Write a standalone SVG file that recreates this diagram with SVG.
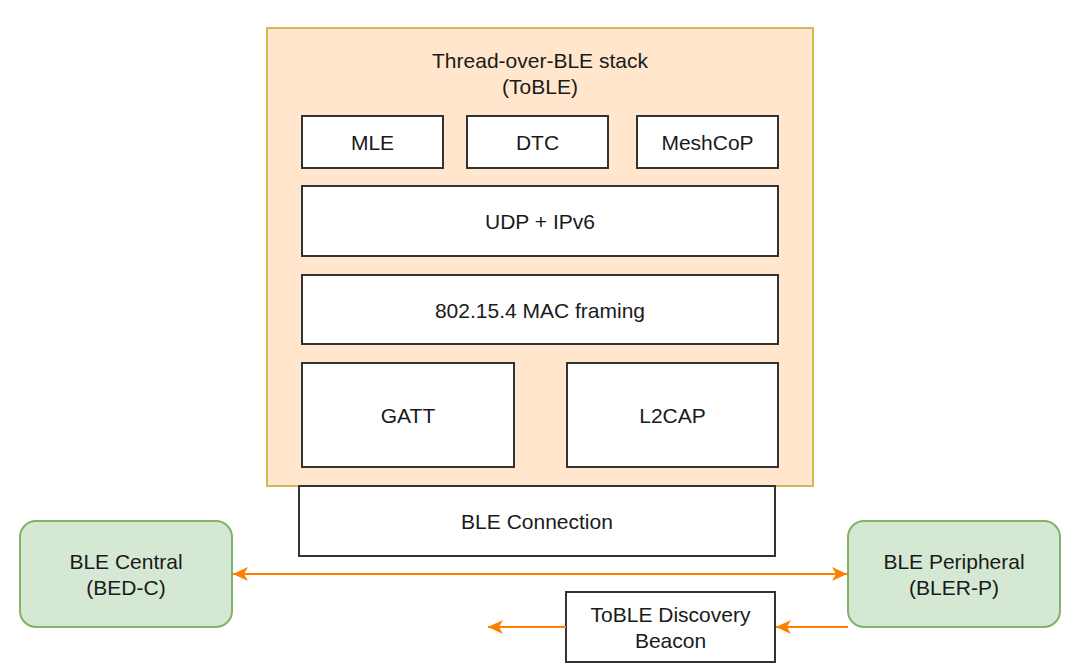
<svg xmlns="http://www.w3.org/2000/svg" width="1080" height="672" viewBox="0 0 1080 672">
<defs>
<style>
.box{fill:#ffffff;stroke:#333333;stroke-width:2}
.green{fill:#d5e8d4;stroke:#82b366;stroke-width:2}
.t{font-family:"Liberation Sans",Arial,sans-serif;font-size:21px;fill:#1a1a1a;text-anchor:middle;dominant-baseline:central}
.conn{stroke:#ff8000;stroke-width:2;fill:none}
</style>
<marker id="a2" markerWidth="16" markerHeight="16" viewBox="0 0 16 16" refX="15" refY="8" orient="auto-start-reverse" markerUnits="userSpaceOnUse">
<path d="M0,1 L15,8 L0,15 L4,8 Z" fill="#ff8000"/>
</marker>
</defs>
<rect width="1080" height="672" fill="#ffffff"/>
<g id="stack">
<rect x="267" y="28" width="546" height="458" fill="#ffe6cc" stroke="#d6b656" stroke-width="2"/>
<text class="t" x="540" y="60">Thread-over-BLE stack</text>
<text class="t" x="540" y="86">(ToBLE)</text>
</g>
<g id="mle"><rect class="box" x="302" y="116" width="141" height="52"/><text class="t" x="372.5" y="142">MLE</text></g>
<g id="dtc"><rect class="box" x="467" y="116" width="141" height="52"/><text class="t" x="537.5" y="142">DTC</text></g>
<g id="meshcop"><rect class="box" x="637" y="116" width="141" height="52"/><text class="t" x="707.5" y="142">MeshCoP</text></g>
<g id="udp"><rect class="box" x="302" y="186" width="476" height="70"/><text class="t" x="540" y="221">UDP + IPv6</text></g>
<g id="mac"><rect class="box" x="302" y="275" width="476" height="69"/><text class="t" x="540" y="310">802.15.4 MAC framing</text></g>
<g id="gatt"><rect class="box" x="302" y="363" width="212" height="104"/><text class="t" x="408" y="415">GATT</text></g>
<g id="l2cap"><rect class="box" x="567" y="363" width="211" height="104"/><text class="t" x="672.5" y="415">L2CAP</text></g>
<g id="bleconn"><rect class="box" x="299" y="486" width="476" height="70"/><text class="t" x="537" y="521">BLE Connection</text></g>
<g id="central"><rect class="green" x="20" y="521" width="212" height="106" rx="16"/><text class="t" x="126" y="561">BLE Central</text><text class="t" x="126" y="587">(BED-C)</text></g>
<g id="peripheral"><rect class="green" x="848" y="521" width="212" height="106" rx="16"/><text class="t" x="954" y="561">BLE Peripheral</text><text class="t" x="954" y="587">(BLER-P)</text></g>
<g id="beacon"><rect class="box" x="566" y="592" width="209" height="70"/><text class="t" x="670.5" y="614">ToBLE Discovery</text><text class="t" x="670.5" y="640">Beacon</text></g>
<g id="connectors">
<line class="conn" x1="233" y1="574" x2="847" y2="574" marker-start="url(#a2)" marker-end="url(#a2)"/>
<line class="conn" x1="848" y1="627" x2="776" y2="627" marker-end="url(#a2)"/>
<line class="conn" x1="566" y1="627" x2="488" y2="627" marker-end="url(#a2)"/>
</g>
</svg>
